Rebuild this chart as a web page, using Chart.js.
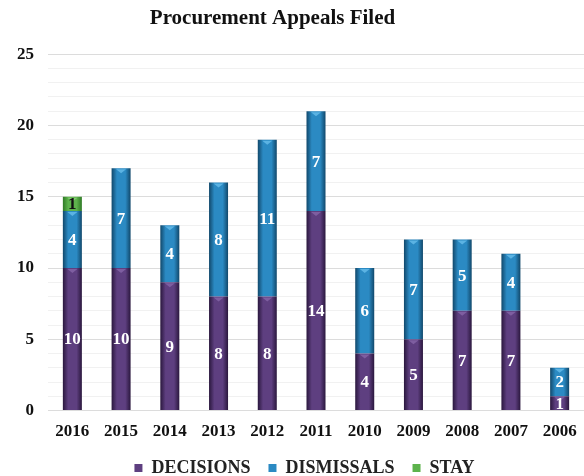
<!DOCTYPE html>
<html>
<head>
<meta charset="utf-8">
<script src="https://cdn.jsdelivr.net/npm/chart.js@4.4.1/dist/chart.umd.min.js"></script>
<style>
  html, body { margin: 0; padding: 0; background: #fff; }
  #wrap { width: 584px; height: 476px; position: relative; }
</style>
</head>
<body>
<div id="wrap"><canvas id="c" width="584" height="476"></canvas></div>
<script>
const categories = ["2016","2015","2014","2013","2012","2011","2010","2009","2008","2007","2006"];
const decisions  = [10, 10, 9, 8, 8, 14, 4, 5, 7, 7, 1];
const dismissals = [4, 7, 4, 8, 11, 7, 6, 7, 5, 4, 2];
const stay       = [1, 0, 0, 0, 0, 0, 0, 0, 0, 0, 0];
const yLabelTicks = [0, 5, 10, 15, 20, 25];

const SERIF = '"Liberation Serif", "DejaVu Serif", serif';

const styles = [
  { dark: '#2a173d', mid: '#5e3f80', light: '#8a6aab', label: '#ffffff' },
  { dark: '#11486b', mid: '#2b8ac3', light: '#6cc0ee', label: '#ffffff' },
  { dark: '#2f7a25', mid: '#5db34c', light: '#8fd47e', label: '#111111' }
];

const barStylePlugin = {
  id: 'barStyle',
  afterLayout(chart) {
    if (chart.titleBlock) { chart.titleBlock.left -= 21; chart.titleBlock.right -= 21; }
    if (chart.legend) { chart.legend.left += 11; chart.legend.right += 11; }
  },
  beforeDatasetsDraw(chart) {
    const ctx = chart.ctx;
    chart.data.datasets.forEach((ds, di) => {
      const st = styles[di];
      chart.getDatasetMeta(di).data.forEach((bar) => {
        const w = bar.width;
        const g = ctx.createLinearGradient(bar.x - w / 2, 0, bar.x + w / 2, 0);
        g.addColorStop(0, st.dark);
        g.addColorStop(0.28, st.mid);
        g.addColorStop(0.72, st.mid);
        g.addColorStop(1, st.dark);
        bar.options.backgroundColor = g;
      });
    });
  },
  afterDatasetsDraw(chart) {
    const ctx = chart.ctx;
    ctx.save();
    chart.data.datasets.forEach((ds, di) => {
      const st = styles[di];
      chart.getDatasetMeta(di).data.forEach((bar, i) => {
        const v = ds.data[i];
        if (!v) return;
        const top = Math.min(bar.y, bar.base);
        const h = Math.abs(bar.base - bar.y);
        if (h > 6) {
          ctx.fillStyle = st.light;
          ctx.globalAlpha = 0.75;
          ctx.beginPath();
          ctx.moveTo(bar.x - 5, top + 1);
          ctx.lineTo(bar.x + 5, top + 1);
          ctx.lineTo(bar.x, top + 5);
          ctx.closePath();
          ctx.fill();
          ctx.globalAlpha = 1;
        }
        ctx.font = 'bold 17px ' + SERIF;
        ctx.textAlign = 'center';
        ctx.textBaseline = 'middle';
        ctx.fillStyle = st.label;
        ctx.fillText(String(v), bar.x, top + h / 2 + 1);
      });
    });
    ctx.restore();
  }
};

new Chart(document.getElementById('c'), {
  type: 'bar',
  data: {
    labels: categories,
    datasets: [
      { label: 'DECISIONS', data: decisions, backgroundColor: (c) => styles[0].mid },
      { label: 'DISMISSALS', data: dismissals, backgroundColor: (c) => styles[1].mid },
      { label: 'STAY', data: stay, backgroundColor: (c) => styles[2].mid }
    ]
  },
  options: {
    responsive: false,
    animation: false,
    devicePixelRatio: 1,
    layout: { padding: { left: 3, right: 0, top: 0, bottom: -11 } },
    datasets: { bar: { barPercentage: 0.39, categoryPercentage: 1.0, borderWidth: 0 } },
    plugins: {
      title: {
        display: true, text: 'Procurement Appeals Filed', color: '#111',
        font: { family: SERIF, size: 21, weight: 'bold' },
        padding: { top: 6, bottom: 23 }
      },
      legend: {
        position: 'bottom',
        labels: {
          color: '#222', boxWidth: 8, boxHeight: 8, padding: 18,
          font: { family: SERIF, size: 18, weight: 'bold' }
        }
      },
      tooltip: { enabled: false }
    },
    scales: {
      x: {
        stacked: true,
        grid: { display: false },
        border: { display: false },
        afterFit: (axis) => { axis.height -= 4; },
        ticks: { color: '#111', font: { family: SERIF, size: 17, weight: 'bold' }, padding: 3 }
      },
      y: {
        stacked: true, min: 0, max: 25,
        ticks: {
          stepSize: 1, autoSkip: false,
          color: '#111', font: { family: SERIF, size: 17, weight: 'bold' }, padding: 14,
          callback: (v) => yLabelTicks.includes(v) ? String(v) : ''
        },
        grid: {
          drawTicks: false,
          color: (c) => (c.tick && c.tick.value % 5 === 0) ? '#dcdcdc' : '#f1f1f1'
        },
        border: { display: false }
      }
    }
  },
  plugins: [barStylePlugin]
});
</script>
</body>
</html>
